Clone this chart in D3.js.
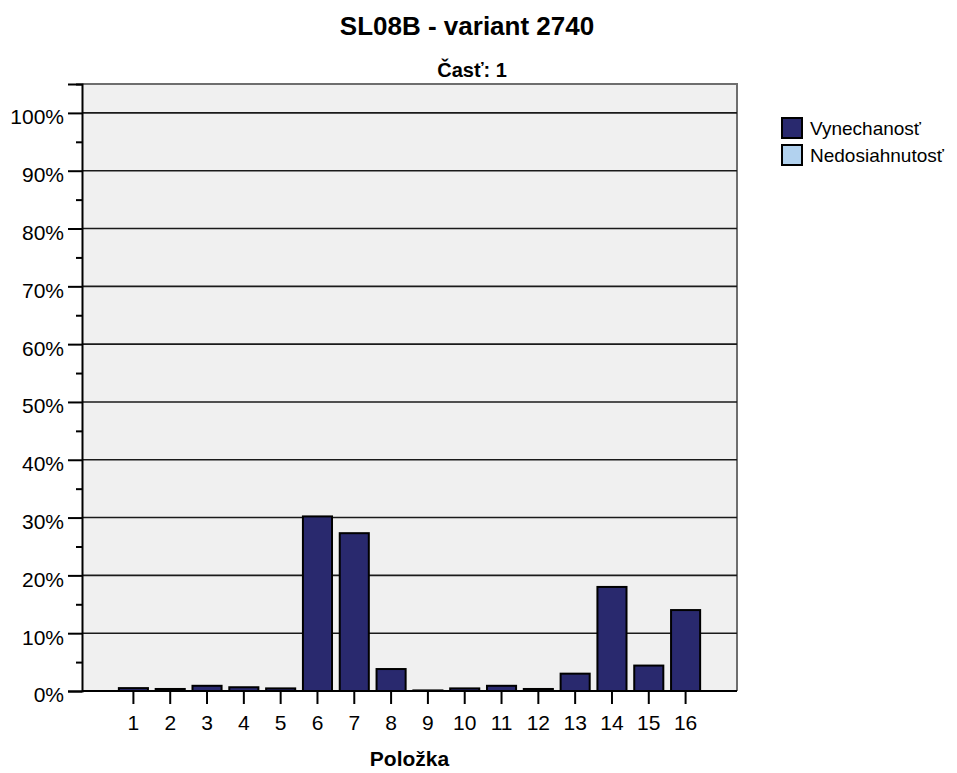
<!DOCTYPE html>
<html lang="sk">
<head>
<meta charset="utf-8">
<script src="https://d3js.org/d3.v7.min.js"></script>
<style>
    body { margin: 0; background: #ffffff; }
    text { font-family: "Liberation Sans", Arial, sans-serif; fill: #000; }
</style>
</head>
<body>
<script>
    // data
    var categories = ["1", "2", "3", "4", "5", "6", "7", "8", "9", "10", "11", "12", "13", "14", "15", "16"];
    var vynechanost = [0.5, 0.35, 0.9, 0.65, 0.45, 30.2, 27.3, 3.8, 0.1, 0.45, 0.9, 0.35, 3.0, 18.0, 4.4, 14.0];
    var nedosiahnutost = [0, 0, 0, 0, 0, 0, 0, 0, 0, 0, 0, 0, 0, 0, 0, 0];
    var seriesNames = ["Vynechanosť", "Nedosiahnutosť"];
    var majorTicks = [0, 10, 20, 30, 40, 50, 60, 70, 80, 90, 100];
    var minorTicks = [5, 15, 25, 35, 45, 55, 65, 75, 85, 95, 105];

    var colour = { dark: "#29296e", light: "#b2d2ef", plot: "#f0f0f0" };

    var width = 957, height = 773;
    var plot = { left: 82, right: 737, top: 84, bottom: 691 };

    var svg = d3.select("body").append("svg")
                .attr("width", width)
                .attr("height", height);

    var x = d3.scaleBand()
              .domain(categories)
              .range([plot.left + 33, plot.right - 33])
              .paddingInner(0.21)
              .paddingOuter(0.105);

    var y = d3.scaleLinear()
              .domain([0, 105])
              .range([plot.bottom, plot.top]);

    // plot background
    svg.append("rect")
       .attr("x", plot.left)
       .attr("y", plot.top)
       .attr("width", plot.right - plot.left)
       .attr("height", plot.bottom - plot.top)
       .attr("fill", colour.plot);

    // top and right frame
    svg.append("path")
       .attr("d", "M" + plot.left + "," + plot.top + "H" + plot.right + "V" + plot.bottom)
       .attr("fill", "none")
       .attr("stroke", "#6e6e6e")
       .attr("stroke-width", 2);

    // grid lines
    svg.append("g").selectAll("line")
       .data(majorTicks.filter(function(d) { return d > 0; }))
       .enter().append("line")
       .attr("x1", plot.left)
       .attr("x2", plot.right)
       .attr("y1", function(d) { return y(d); })
       .attr("y2", function(d) { return y(d); })
       .attr("stroke", "#1a1a1a")
       .attr("stroke-width", 1.6);

    // stacked bars
    var stacked = categories.map(function(c, i) {
        return { cat: c, v: vynechanost[i], n: nedosiahnutost[i] };
    });

    var bars = svg.append("g");
    bars.selectAll("rect.v")
        .data(stacked)
        .enter().append("rect")
        .attr("class", "v")
        .attr("x", function(d) { return x(d.cat); })
        .attr("width", x.bandwidth())
        .attr("y", function(d) { return y(d.v); })
        .attr("height", function(d) { return y(0) - y(d.v); })
        .attr("fill", colour.dark)
        .attr("stroke", "#000")
        .attr("stroke-width", 2);

    bars.selectAll("rect.n")
        .data(stacked.filter(function(d) { return d.n > 0; }))
        .enter().append("rect")
        .attr("class", "n")
        .attr("x", function(d) { return x(d.cat); })
        .attr("width", x.bandwidth())
        .attr("y", function(d) { return y(d.v + d.n); })
        .attr("height", function(d) { return y(d.v) - y(d.v + d.n); })
        .attr("fill", colour.light)
        .attr("stroke", "#000")
        .attr("stroke-width", 2);

    // y axis, major + minor ticks
    var yAxis = svg.append("g")
       .attr("transform", "translate(" + plot.left + ",0)")
       .call(d3.axisLeft(y).tickValues(majorTicks).tickSize(14).tickFormat(function(d) { return d + "%"; }));
    yAxis.select(".domain").attr("stroke", "#000").attr("stroke-width", 2);
    yAxis.selectAll(".tick line").attr("stroke", "#000").attr("stroke-width", 2);
    yAxis.selectAll(".tick text")
         .attr("x", -18)
         .attr("dy", "0.52em")
         .style("font-size", "21px")
         .style("font-family", "Liberation Sans, Arial, sans-serif");

    var yMinor = svg.append("g")
       .attr("transform", "translate(" + plot.left + ",0)")
       .call(d3.axisLeft(y).tickValues(minorTicks).tickSize(6).tickFormat(""));
    yMinor.select(".domain").remove();
    yMinor.selectAll(".tick line").attr("stroke", "#000").attr("stroke-width", 2);

    // x axis
    var xAxis = svg.append("g")
       .attr("transform", "translate(0," + plot.bottom + ")")
       .call(d3.axisBottom(x).tickSize(13).tickSizeOuter(0));
    xAxis.select(".domain")
         .attr("d", "M" + plot.left + ",0H" + plot.right)
         .attr("stroke", "#000").attr("stroke-width", 2);
    xAxis.selectAll(".tick line").attr("stroke", "#000").attr("stroke-width", 2);
    xAxis.selectAll(".tick text")
         .attr("y", 24)
         .style("font-size", "21px")
         .style("font-family", "Liberation Sans, Arial, sans-serif");

    // titles
    svg.append("text")
       .attr("x", 467)
       .attr("y", 35)
       .attr("text-anchor", "middle")
       .style("font-size", "26px")
       .style("font-weight", "bold")
       .text("SL08B - variant 2740");

    svg.append("text")
       .attr("x", 472)
       .attr("y", 77)
       .attr("text-anchor", "middle")
       .style("font-size", "20px")
       .style("font-weight", "bold")
       .text("Časť: 1");

    svg.append("text")
       .attr("x", (plot.left + plot.right) / 2)
       .attr("y", 766)
       .attr("text-anchor", "middle")
       .style("font-size", "21px")
       .style("font-weight", "bold")
       .text("Položka");

    // legend
    var legend = svg.append("g").attr("transform", "translate(782,118)");
    var item = legend.selectAll("g")
       .data(seriesNames)
       .enter().append("g")
       .attr("transform", function(d, i) { return "translate(0," + (i * 27) + ")"; });
    item.append("rect")
        .attr("width", 20)
        .attr("height", 20)
        .attr("fill", function(d, i) { return i === 0 ? colour.dark : colour.light; })
        .attr("stroke", "#000")
        .attr("stroke-width", 2);
    item.append("text")
        .attr("x", 28)
        .attr("y", 17)
        .style("font-size", "19px")
        .text(function(d) { return d; });
</script>
</body>
</html>
